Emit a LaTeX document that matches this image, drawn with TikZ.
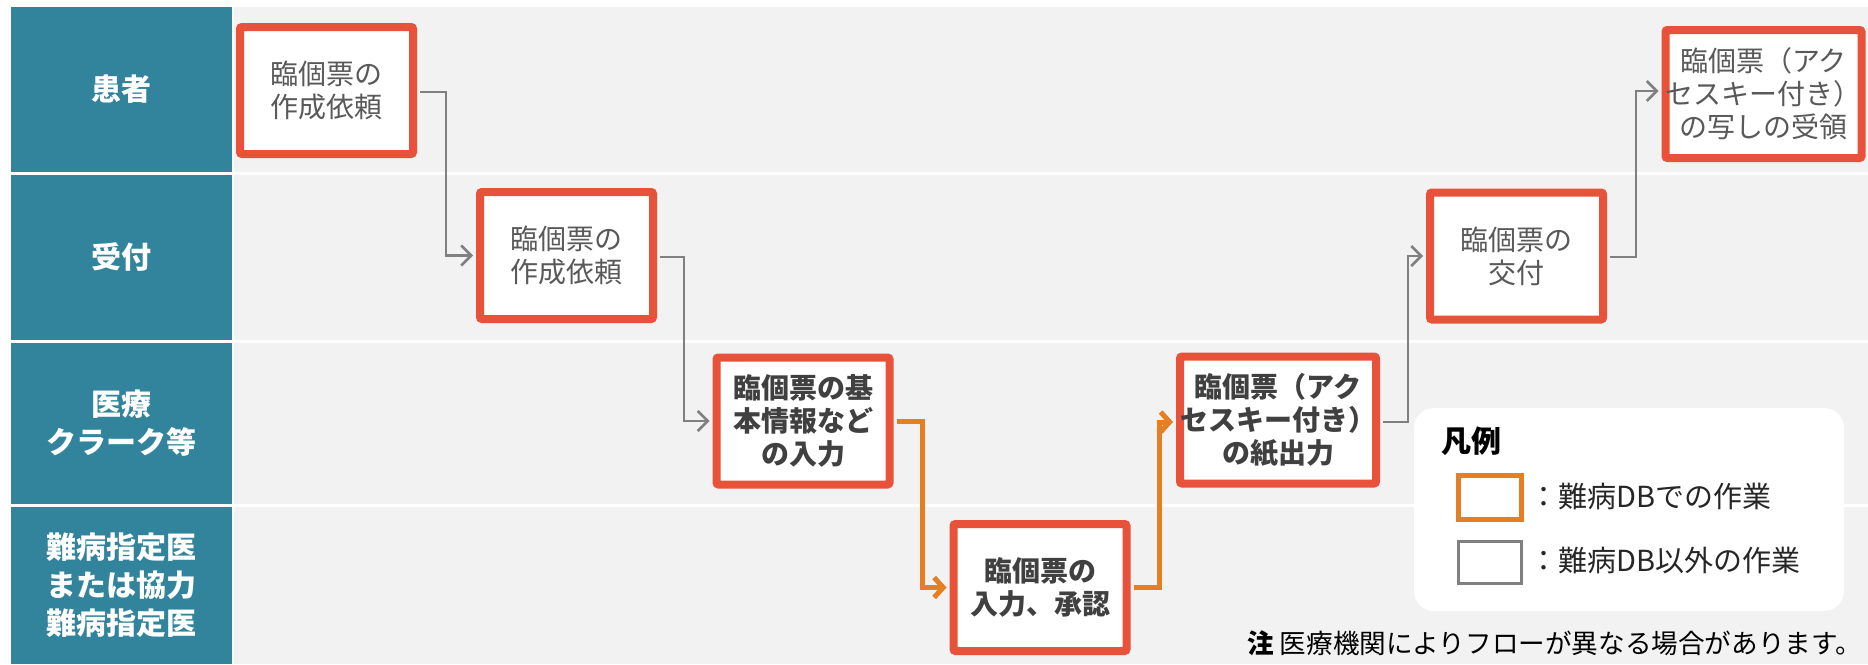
\documentclass[tikz,border=0pt]{standalone}
\usepackage{fontspec}
\setmainfont{Noto Sans CJK JP}
\usetikzlibrary{arrows.meta}
\definecolor{hdrteal}{HTML}{31849B}
\definecolor{lanebg}{HTML}{F2F2F2}
\definecolor{boxred}{HTML}{E9523A}
\definecolor{dborange}{HTML}{E67E22}
\definecolor{lineGray}{HTML}{808080}
\definecolor{txtlight}{HTML}{595959}
\definecolor{txtdark}{HTML}{404040}
\definecolor{txtblack}{HTML}{262626}
\begin{document}
\begin{tikzpicture}[x=1pt,y=-1pt,
  hdr/.style={fill=hdrteal, text=white, inner sep=0pt, minimum width=221pt, align=center,
    font=\bfseries\fontsize{30}{38}\selectfont},
  taskbox/.style={draw=boxred, line width=8pt, fill=white, rounded corners=2pt, inner sep=0pt,
    minimum width=173pt, minimum height=127pt, align=center},
  lighttxt/.style={text=txtlight, font=\fontsize{28}{33}\selectfont},
  boldtxt/.style={text=txtdark, font=\bfseries\fontsize{28}{33}\selectfont},
  gline/.style={draw=lineGray, line width=2.5pt, -{Straight Barb[length=10pt,width=20pt]}},
  oline/.style={draw=dborange, line width=5pt, -{Straight Barb[length=9pt,width=20pt]}},
  legtxt/.style={text=txtblack, font=\fontsize{29}{33}\selectfont, anchor=west, inner sep=0pt}
]
\useasboundingbox (0,0) rectangle (1868,664);
\fill[white] (0,0) rectangle (1868,664);
% lanes
\fill[lanebg] (234,7) rectangle (1868,172);
\fill[lanebg] (234,175) rectangle (1868,340);
\fill[lanebg] (234,343) rectangle (1868,504);
\fill[lanebg] (234,507) rectangle (1868,664);
% headers
\node[hdr, minimum height=165pt] (h1) at (121.5,89.5) {患者};
\node[hdr, minimum height=165pt] (h2) at (121.5,257.5) {受付};
\node[hdr, minimum height=161pt] (h3) at (121.5,423.5) {医療\\クラーク等};
\node[hdr, minimum height=157pt] (h4) at (121.5,585.5) {難病指定医\\または協力\\難病指定医};
% task boxes
\node[taskbox, lighttxt] (b1) at (326.5,90.5) {臨個票の\\作成依頼};
\node[taskbox, lighttxt] (b2) at (566.5,255.5) {臨個票の\\作成依頼};
\node[taskbox, boldtxt] (b3) at (803,421) {臨個票の基\\本情報など\\の入力};
\node[taskbox, boldtxt] (b4) at (1040,587.5) {臨個票の\\入力、承認};
\node[taskbox, boldtxt, minimum width=174pt] (b5) at (1278,420) {臨個票（アク\\セスキー付き）\\の紙出力};
\node[taskbox, lighttxt] (b6) at (1516.5,256) {臨個票の\\交付};
\node[taskbox, lighttxt, minimum width=187pt, minimum height=128pt] (b7) at (1763.5,94) {臨個票（アク\\セスキー付き）\\の写しの受領};
% connectors
\draw[gline] ([xshift=3pt,yshift=-1.5pt]b1.east) -- ++(26,0) |- ([xshift=-3pt]b2.west);
\draw[gline] ([xshift=3pt,yshift=-1.5pt]b2.east) -- ++(24,0) |- ([xshift=-3pt]b3.west);
\draw[oline] ([xshift=3pt]b3.east) -- ++(26,0) |- ([xshift=-3pt]b4.west);
\draw[oline] ([xshift=3pt]b4.east) -- ++(26,0) |- ([xshift=-3pt,yshift=-2pt]b5.west);
\draw[gline] ([xshift=3pt,yshift=-2pt]b5.east) -- ++(25,0) |- ([xshift=-3pt]b6.west);
\draw[gline] ([xshift=3pt,yshift=-1pt]b6.east) -- ++(26,0) |- ([xshift=-3pt,yshift=3pt]b7.west);
% legend
\node[fill=white, rounded corners=20pt, minimum width=430pt, minimum height=203pt, inner sep=0pt] (leg) at (1629,509.5) {};
\node[text=black, font=\bfseries\fontsize{30}{34}\selectfont, anchor=west, inner sep=0pt] (legtitle) at (1441,441) {凡例};
\node[draw=dborange, line width=5pt, minimum width=63pt, minimum height=44pt, inner sep=0pt] (lg1) at (1490,497.5) {};
\node[legtxt] (lt1) at (1529,497) {：難病DBでの作業};
\node[draw=lineGray, line width=3pt, minimum width=63pt, minimum height=42pt, inner sep=0pt] (lg2) at (1490,562.5) {};
\node[legtxt] (lt2) at (1529,561) {：難病DB以外の作業};
% note
\node[text=black, font=\fontsize{26.6}{30}\selectfont, anchor=east, inner sep=0pt] (note) at (1862,643) {\textbf{注} 医療機関によりフローが異なる場合があります。};
\end{tikzpicture}
\end{document}
